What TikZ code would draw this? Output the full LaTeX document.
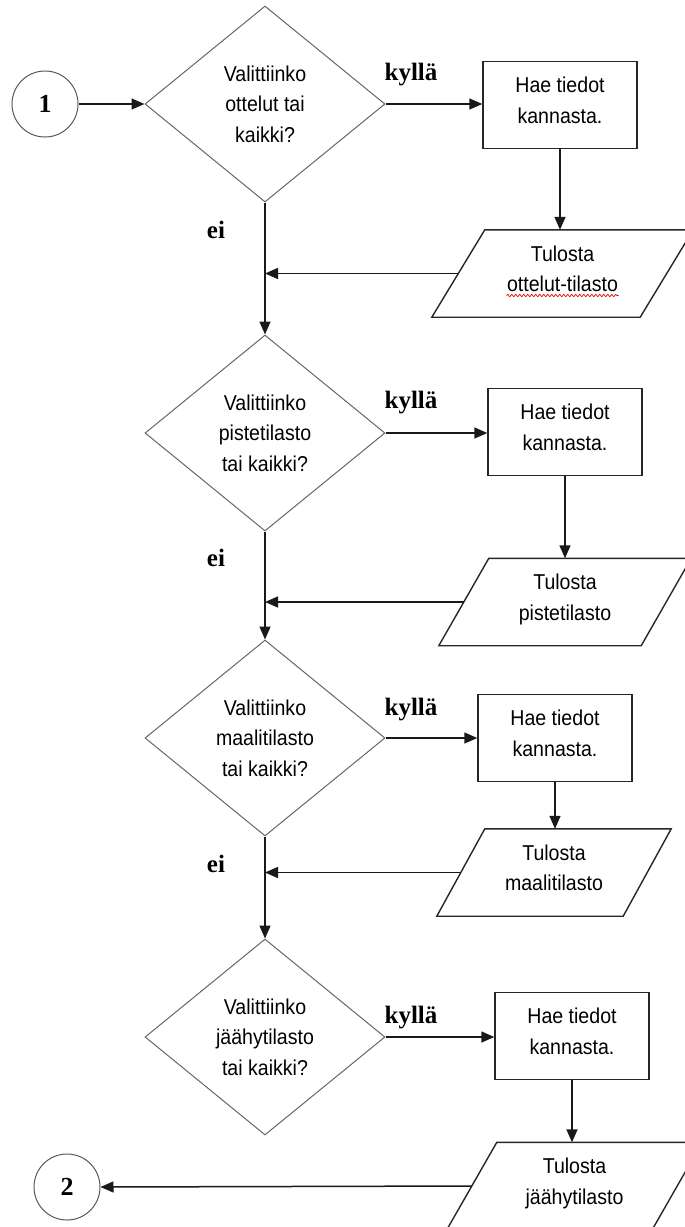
\documentclass[tikz,border=0pt]{standalone}
\usepackage{fontspec}
\setmainfont{Liberation Sans}[FakeStretch=0.91]
\newfontfamily\serifb{Liberation Serif}
\usetikzlibrary{shapes.geometric,arrows.meta,decorations.pathmorphing}
\newcommand\dpfix{\rule[-10pt]{0pt}{0pt}}
\begin{document}
\begin{tikzpicture}[x=1pt,y=-1pt,
  every node/.style={inner sep=0pt},
  txt/.style={font=\fontsize{21.5}{30.5}\selectfont, align=center, text=black},
  decision/.style={txt, diamond, draw=black!60, line width=1pt, minimum width=240pt, minimum height=196pt},
  procbox/.style={txt, rectangle, draw=black!85, line width=1.4pt, minimum width=154pt, minimum height=87pt},
  iobox/.style={txt, rectangle, minimum height=87pt},
  ioline/.style={draw=black!85, line width=1.4pt, line join=miter},
  conn/.style={circle, draw=black!65, line width=1pt, minimum size=66pt, font=\serifb\bfseries\fontsize{26}{26}\selectfont},
  lbl/.style={font=\serifb\bfseries\fontsize{25}{25}\selectfont},
  arr/.style={draw=black!90, line width=1.5pt, -{Triangle[length=13pt,width=11pt]}},
  spell/.style={draw=red!85!black, line width=0.7pt, decorate, decoration={snake, amplitude=1.1pt, segment length=4pt}},
]
\useasboundingbox (0,0) rectangle (685,1227);

% connectors (circles)
\node[conn] (c1) at (45,104) {1};
\node[conn] (c2) at (67,1187) {2};

% decisions
\node[decision] (d1) at (265,104) {Valittiinko\\ottelut tai\\kaikki?};
\node[decision] (d2) at (265,433) {Valittiinko\\pistetilasto\\tai kaikki?};
\node[decision] (d3) at (265,738) {Valittiinko\\maalitilasto\\tai kaikki?};
\node[decision] (d4) at (265,1037) {Valittiinko\\jäähytilasto\\tai kaikki?};

% process boxes
\node[procbox] (b1) at (560,105) {Hae tiedot\\kannasta.\dpfix};
\node[procbox] (b2) at (565,432) {Hae tiedot\\kannasta.\dpfix};
\node[procbox] (b3) at (555,738) {Hae tiedot\\kannasta.\dpfix};
\node[procbox] (b4) at (572,1036) {Hae tiedot\\kannasta.\dpfix};

% output parallelograms
\node[iobox, minimum width=208pt] (p1) at (562.5,273.5) {Tulosta\\ottelut-tilasto\dpfix};
\node[iobox, minimum width=202pt] (p2) at (565,602) {Tulosta\\pistetilasto\dpfix};
\node[iobox, minimum width=186pt] (p3) at (554,872.5) {Tulosta\\maalitilasto\dpfix};
\node[iobox, minimum width=205pt] (p4) at (574.5,1186) {Tulosta\\jäähytilasto\dpfix};
\foreach \p/\o in {p1/26.5, p2/25, p3/24, p4/25}{
  \draw[ioline] ([xshift=-\o pt]\p.south west) -- ([xshift=\o pt]\p.north west)
    -- ([xshift=\o pt]\p.north east) -- ([xshift=-\o pt]\p.south east) -- cycle;
}
\draw[spell] ([xshift=-56pt,yshift=-22pt]p1.center) -- ([xshift=56pt,yshift=-22pt]p1.center);

% labels
\node[lbl] (k1) at (411,75) {kyllä};
\node[lbl] (k2) at (411,403) {kyllä};
\node[lbl] (k3) at (411,710) {kyllä};
\node[lbl] (k4) at (411,1018) {kyllä};
\node[lbl] (e1) at (216,230) {ei};
\node[lbl] (e2) at (216,558) {ei};
\node[lbl] (e3) at (216,864) {ei};

% flow
\draw[arr] (c1.east) -- (d1.west);
\foreach \i in {1,2,3,4}{
  \draw[arr] (d\i.east) -- (d\i.east -| b\i.west);
  \draw[arr] (b\i.south) -- (b\i.south |- p\i.north);
}
\draw[arr] (d1.south) -- (d2.north);
\draw[arr] (d2.south) -- (d3.north);
\draw[arr] (d3.south) -- (d4.north);
\draw[arr] (p1.west) -- (p1.west -| d1.south);
\draw[arr] (p2.west) -- (p2.west -| d2.south);
\draw[arr] (p3.west) -- (p3.west -| d3.south);
\draw[arr] (p4.west) -- (c2.east);
\end{tikzpicture}
\end{document}
